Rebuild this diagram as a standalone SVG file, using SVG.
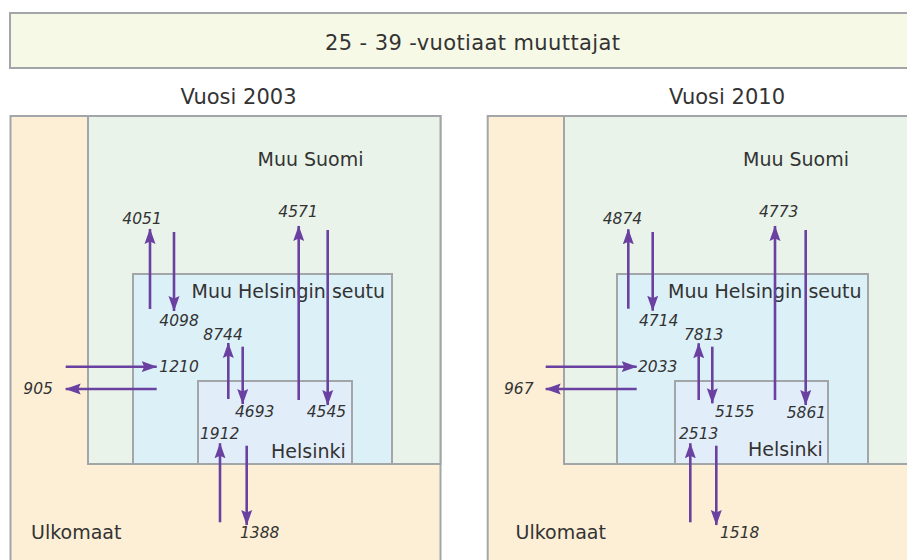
<svg xmlns="http://www.w3.org/2000/svg" width="907" height="560" viewBox="0 0 907 560">
<defs>
<style>
.box{stroke:#a3a6a8;stroke-width:2}
.uk{fill:#fdefd6}
.ms{fill:#e9f3ea}
.mhs{fill:#dcf0f8}
.hki{fill:#e1eefa}
.hdr{fill:#f7f9e7}
.t{font-family:"DejaVu Sans",Verdana,sans-serif;fill:#333}
.h{font-size:21px}
.r{font-size:19px}
.n{font-size:15.5px;font-style:italic}
.c{text-anchor:middle}
.a{stroke:#6a40a0;stroke-width:2.6;fill:none;marker-end:url(#ah)}
</style>
<marker id="ah" markerUnits="userSpaceOnUse" markerWidth="16" markerHeight="14" viewBox="0 0 16 14" refX="15" refY="7" orient="auto">
<path d="M0,1.5 L15.5,7 L0,12.5 L2.5,7 z" fill="#6a40a0"/>
</marker>
</defs>
<rect width="907" height="560" fill="#fff"/>
<g id="header">
<rect class="box hdr" x="10" y="13" width="930" height="55"/>
<text class="t h c" x="472.5" y="50" textLength="295">25 - 39 -vuotiaat muuttajat</text>
</g>
<g id="panel2003">
<text class="t h c" x="238.5" y="103.5">Vuosi 2003</text>
<g id="ulkomaat2003"><rect class="box uk" x="10.5" y="116" width="430" height="470"/><text class="t r" x="31" y="538.5">Ulkomaat</text></g>
<g id="muusuomi2003"><rect class="box ms" x="88" y="116" width="352.5" height="348"/><text class="t r" x="257.5" y="166">Muu Suomi</text></g>
<g id="muuhelsinginseutu2003"><rect class="box mhs" x="133" y="274" width="259" height="190"/><text class="t r" x="191.5" y="297.5">Muu Helsingin seutu</text></g>
<g id="helsinki2003"><rect class="box hki" x="198" y="381" width="154" height="83"/><text class="t r" x="271" y="457.5">Helsinki</text></g>
</g>
<g id="panel2010">
<text class="t h c" x="727" y="103.5">Vuosi 2010</text>
<g id="ulkomaat2010"><rect class="box uk" x="487.7" y="116" width="450" height="470"/><text class="t r" x="515.5" y="538.5">Ulkomaat</text></g>
<g id="muusuomi2010"><rect class="box ms" x="564" y="116" width="380" height="348"/><text class="t r" x="743" y="165.5">Muu Suomi</text></g>
<g id="muuhelsinginseutu2010"><rect class="box mhs" x="617" y="274" width="251" height="190"/><text class="t r" x="668" y="297.5">Muu Helsingin seutu</text></g>
<g id="helsinki2010"><rect class="box hki" x="675" y="381" width="153" height="83"/><text class="t r" x="748" y="455.5">Helsinki</text></g>
</g>
<g id="connectors">
<line class="a" x1="150" y1="309" x2="150" y2="229"/>
<line class="a" x1="174" y1="232" x2="174" y2="311"/>
<line class="a" x1="298.7" y1="400" x2="298.7" y2="226"/>
<line class="a" x1="327.7" y1="230" x2="327.7" y2="405"/>
<line class="a" x1="228.3" y1="399" x2="228.3" y2="343"/>
<line class="a" x1="242.7" y1="346.7" x2="242.7" y2="404"/>
<line class="a" x1="65.7" y1="366.7" x2="156.7" y2="366.7"/>
<line class="a" x1="156.7" y1="389" x2="65.7" y2="389"/>
<line class="a" x1="220" y1="522.3" x2="220" y2="443.3"/>
<line class="a" x1="246.7" y1="445.7" x2="246.7" y2="525"/>
<line class="a" x1="628.3" y1="308.7" x2="628.3" y2="229.3"/>
<line class="a" x1="652.7" y1="232" x2="652.7" y2="310.7"/>
<line class="a" x1="775" y1="400" x2="775" y2="226"/>
<line class="a" x1="805.7" y1="230" x2="805.7" y2="405"/>
<line class="a" x1="698.7" y1="400" x2="698.7" y2="343.3"/>
<line class="a" x1="712.3" y1="346.7" x2="712.3" y2="403.3"/>
<line class="a" x1="545.7" y1="366.7" x2="636.7" y2="366.7"/>
<line class="a" x1="636.7" y1="389" x2="545.7" y2="389"/>
<line class="a" x1="690.3" y1="522.3" x2="690.3" y2="443.3"/>
<line class="a" x1="716.3" y1="445.7" x2="716.3" y2="525"/>
</g>
<g id="labels">
<text class="t n" x="122.3" y="224">4051</text>
<text class="t n" x="159.3" y="326">4098</text>
<text class="t n" x="278.3" y="217.3">4571</text>
<text class="t n" x="203.3" y="340">8744</text>
<text class="t n" x="159.3" y="372.3">1210</text>
<text class="t n" x="23.3" y="394.3">905</text>
<text class="t n" x="235" y="417.3">4693</text>
<text class="t n" x="306.7" y="417.3">4545</text>
<text class="t n" x="200" y="439.3">1912</text>
<text class="t n" x="240" y="538.3">1388</text>
<text class="t n" x="602.7" y="224">4874</text>
<text class="t n" x="639" y="326">4714</text>
<text class="t n" x="759" y="217.3">4773</text>
<text class="t n" x="684" y="340">7813</text>
<text class="t n" x="638" y="371.7">2033</text>
<text class="t n" x="504" y="394">967</text>
<text class="t n" x="715" y="416.7">5155</text>
<text class="t n" x="786.7" y="418">5861</text>
<text class="t n" x="679" y="439.3">2513</text>
<text class="t n" x="720" y="538.3">1518</text>
</g>
</svg>
